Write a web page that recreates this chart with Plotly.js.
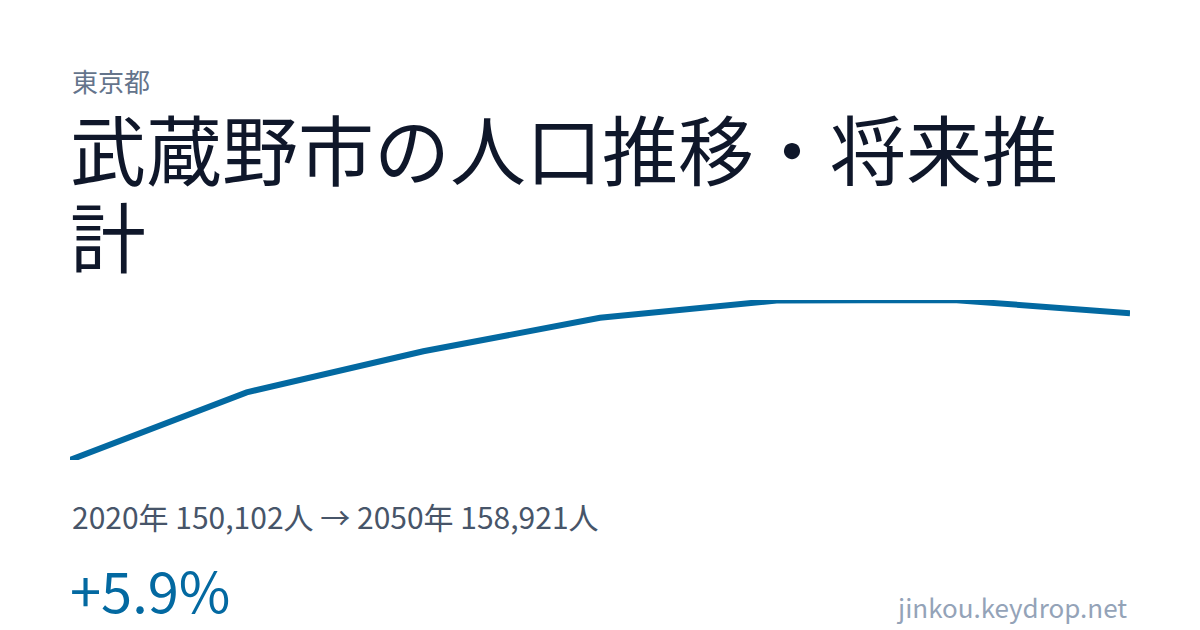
<!DOCTYPE html>
<html>
<head>
<meta charset="utf-8">
<script src="https://cdn.plot.ly/plotly-3.0.1.min.js"></script>
<style>
  html, body { margin: 0; padding: 0; background: #ffffff; }
  #chart { width: 1200px; height: 630px; }
</style>
</head>
<body>
<div id="chart"></div>
<script>
// 武蔵野市 population, actual + projection
var years = [2020, 2025, 2030, 2035, 2040, 2045, 2050];
var population = [150102, 154170, 156640, 158650, 159690, 159720, 158921];

var prefecture = '東京都';
var titleLine1 = '武蔵野市の人口推移・将来推';
var titleLine2 = '計';
var siteName = 'jinkou.keydrop.net';

var FONT = '"Noto Sans CJK JP", "Noto Sans", sans-serif';

// plot area in pixels, used to put the text annotations
var L = 70, R = 70, T = 300, B = 170;
var W = 1200, H = 630;
function px(x) { return (x - L) / (W - L - R); }
function py(y) { return (H - B - y) / (H - T - B); }

function fmt(n) { return n.toLocaleString('en-US'); }

var first = population[0];
var last = population[population.length - 1];
var change = (last - first) / first * 100;
var changeText = (change >= 0 ? '+' : '') + change.toFixed(1) + '%';
var statsText = years[0] + '年 ' + fmt(first) + '人 → ' +
    years[years.length - 1] + '年 ' + fmt(last) + '人';

var trace = {
    x: years,
    y: population,
    type: 'scatter',
    mode: 'lines',
    line: { color: '#0369a1', width: 6 },
    cliponaxis: false,
    hoverinfo: 'skip'
};

function note(text, x, y, size, color, xanchor) {
    return {
        text: text, xref: 'paper', yref: 'paper',
        x: px(x), y: py(y),
        xanchor: xanchor || 'left', yanchor: 'middle',
        showarrow: false,
        font: { family: FONT, size: size, color: color }
    };
}

var layout = {
    width: W, height: H,
    margin: { l: L, r: R, t: T, b: B, pad: 0 },
    paper_bgcolor: '#ffffff',
    plot_bgcolor: '#ffffff',
    showlegend: false,
    xaxis: {
        range: [years[0], years[years.length - 1]],
        visible: false, fixedrange: true
    },
    yaxis: {
        range: [Math.min.apply(null, population), Math.max.apply(null, population)],
        visible: false, fixedrange: true
    },
    annotations: [
        note(prefecture, 70, 80, 26, '#64748b'),
        note(titleLine1, 68, 147, 76, '#0f172a'),
        note(titleLine2, 68, 234, 76, '#0f172a'),
        note(statsText, 70, 516, 30, '#475569'),
        note(changeText, 68, 588, 56, '#0369a1'),
        note(siteName, 1129, 606, 26, '#94a3b8', 'right')
    ]
};

Plotly.newPlot('chart', [trace], layout, { displayModeBar: false, staticPlot: true });
</script>
</body>
</html>
